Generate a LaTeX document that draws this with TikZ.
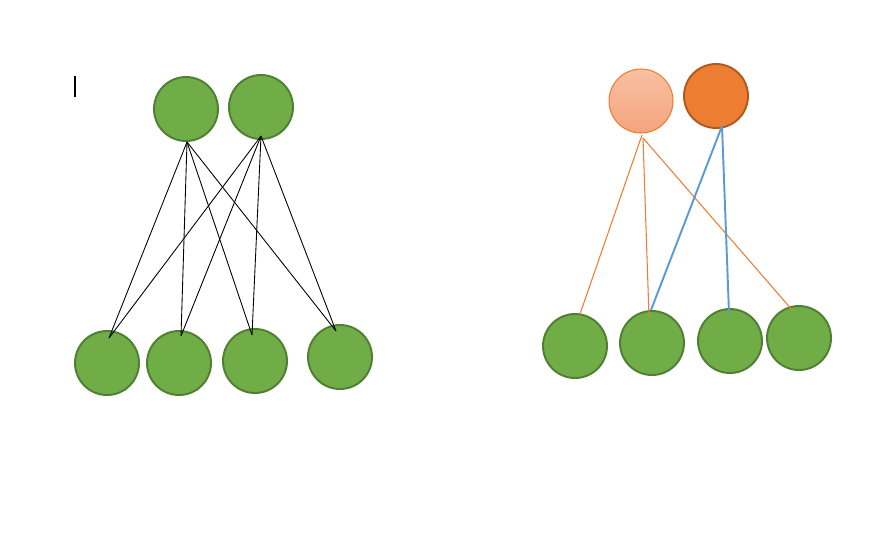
\documentclass[tikz,border=0pt]{standalone}
\usepackage{tikz}

\definecolor{leafgreen}{HTML}{70AD47}
\definecolor{leafedge}{HTML}{507E32}
\definecolor{peachtop}{HTML}{F8C0A2}
\definecolor{peachbot}{HTML}{F4A47C}
\definecolor{peachedge}{HTML}{ED7D31}
\definecolor{hotorange}{HTML}{ED7D31}
\definecolor{hotedge}{HTML}{AE5A21}
\definecolor{skyblue}{HTML}{5B9BD5}

\tikzset{
  unit/.style   = {circle, inner sep=0pt, minimum size=1.28cm},
  leaf/.style   = {unit, fill=leafgreen, draw=leafedge, line width=1.1pt},
  faded/.style  = {unit, top color=peachtop, bottom color=peachbot, draw=peachedge, line width=0.6pt},
  active/.style = {unit, fill=hotorange, draw=hotedge, line width=1.1pt},
  wire/.style   = {black, line width=0.5pt},
  weak/.style   = {peachedge, line width=0.6pt},
  strong/.style = {skyblue, line width=1.1pt}
}

\begin{document}
\begin{tikzpicture}[x=0.02cm, y=-0.02cm]
  \useasboundingbox (0,0) rectangle (891,545);

  % left network
  \node[leaf] (a1) at (186,109) {};
  \node[leaf] (a2) at (261,107) {};
  \node[leaf] (b1) at (107,363) {};
  \node[leaf] (b2) at (179,363) {};
  \node[leaf] (b3) at (255,361) {};
  \node[leaf] (b4) at (340,357) {};

  \coordinate (a1o) at (187,142);
  \coordinate (a2o) at (261,136);
  \coordinate (b1i) at (109,338);
  \coordinate (b2i) at (181,336);
  \coordinate (b3i) at (252,335);
  \coordinate (b4i) at (336,331);

  \foreach \s in {a1o,a2o}
    \foreach \t in {b1i,b2i,b3i,b4i}
      \draw[wire] (\s) -- (\t);

  \coordinate (caret1) at (75,76);
  \coordinate (caret2) at (75,97);
  \draw[black, line width=0.6pt] (caret1) -- (caret2);

  % right network
  \node[faded]  (c1) at (641,101) {};
  \node[active] (c2) at (716,96) {};
  \node[leaf] (d1) at (575,346) {};
  \node[leaf] (d2) at (652,343) {};
  \node[leaf] (d3) at (730,341) {};
  \node[leaf] (d4) at (799,338) {};

  \coordinate (c1o) at (642,135);
  \coordinate (c1p) at (643,138);
  \coordinate (c2o) at (722,126);
  \coordinate (d1i) at (580,314);
  \coordinate (d2i) at (649,317);
  \coordinate (d2j) at (651,310);
  \coordinate (d3i) at (729,313);
  \coordinate (d4i) at (793,311);

  \draw[weak] (c1o) -- (d1i);
  \draw[weak] (c1p) -- (d2i);
  \draw[weak] (c1p) -- (d4i);
  \draw[strong] (c2o) -- (d2j);
  \draw[strong] (c2o) -- (d3i);
\end{tikzpicture}
\end{document}
